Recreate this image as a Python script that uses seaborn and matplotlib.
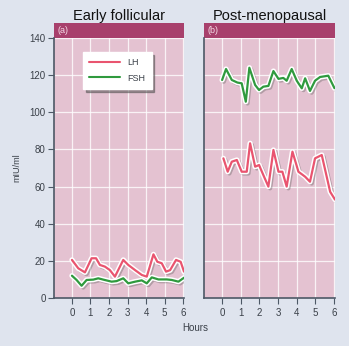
import numpy as np
import pandas as pd
import matplotlib
matplotlib.use("Agg")
import matplotlib.pyplot as plt
import matplotlib.patheffects as pe
from matplotlib.patches import Rectangle
from matplotlib.lines import Line2D
import seaborn as sns

# ---- data ----
lh_a_x = [0, 0.34, 0.7, 1.06, 1.3, 1.51, 1.78, 2.05, 2.32, 2.77, 3.04, 3.41, 3.77, 4.04, 4.4, 4.61, 4.85, 5.08, 5.3, 5.62, 5.87, 6.05]
lh_a_y = [20.5, 16, 13.8, 21.4, 21.4, 17.8, 16.9, 15, 11.5, 20.5, 17.8, 15, 12.4, 11.5, 23.5, 19.5, 18.7, 14.2, 15, 20.5, 19.5, 14.2]
fsh_a_x = [0, 0.25, 0.52, 0.79, 1.15, 1.42, 1.69, 2.14, 2.41, 2.77, 3.04, 3.41, 3.77, 4.04, 4.31, 4.67, 5.12, 5.39, 5.75, 6.05]
fsh_a_y = [12, 9.7, 6.6, 9.7, 9.9, 10.6, 9.9, 8.8, 9.1, 10.6, 7.9, 8.8, 9.5, 7.9, 11.1, 10, 10, 9.7, 8.8, 10.9]

lh_b_x = [0.07, 0.3, 0.52, 0.79, 1.05, 1.32, 1.5, 1.77, 1.98, 2.21, 2.48, 2.75, 3.02, 3.23, 3.46, 3.77, 4.09, 4.45, 4.71, 4.98, 5.34, 5.79, 6.05]
lh_b_y = [75.2, 68, 73.4, 74.3, 68, 68, 83.3, 70.7, 71.6, 66.2, 60, 79.7, 68, 68, 60, 78.8, 68, 65.3, 62.6, 75.2, 77, 57.2, 53]
fsh_b_x = [0, 0.21, 0.52, 0.82, 1.05, 1.27, 1.46, 1.77, 1.98, 2.21, 2.48, 2.75, 3.02, 3.28, 3.46, 3.73, 4.0, 4.27, 4.45, 4.71, 4.98, 5.25, 5.69, 6.02]
fsh_b_y = [117.4, 123.3, 117.4, 116, 115.6, 105.7, 124, 114.7, 112, 113.8, 114.2, 122.2, 118, 118.5, 117, 123.3, 117, 112.9, 118.3, 111.5, 117, 119, 119.7, 113]

x_ticks = [0, 1, 2, 3, 4, 5, 6]
y_ticks = [0, 20, 40, 60, 80, 100, 120, 140]
titles = ["Early follicular", "Post-menopausal"]
tags = ["(a)", "(b)"]
hormones = ["LH", "FSH"]

sns.set_style("white")
plt.rcParams["font.family"] = ["Liberation Sans", "DejaVu Sans"]

BG = "#dfe4ee"
PINK = "#e4c2d1"
BAND = "#a8406c"
LH_C = "#e9546f"
FSH_C = "#2f9a3e"
SPINE = "#4d5866"
TXT = "#3a4048"

fig = plt.figure(figsize=(3.49, 3.46), dpi=100, facecolor=BG)
ax_a = fig.add_axes([54/349, 1-298/346, (184-54)/349, (298-38)/346])
ax_b = fig.add_axes([204/349, 1-298/346, (335-204)/349, (298-38)/346])

frames = [
    pd.DataFrame({"Hours": lh_a_x + fsh_a_x, "mIU/ml": lh_a_y + fsh_a_y,
                  "Hormone": ["LH"]*len(lh_a_x) + ["FSH"]*len(fsh_a_x)}),
    pd.DataFrame({"Hours": lh_b_x + fsh_b_x, "mIU/ml": lh_b_y + fsh_b_y,
                  "Hormone": ["LH"]*len(lh_b_x) + ["FSH"]*len(fsh_b_x)}),
]

effects = [pe.SimpleLineShadow(offset=(1.2, -1.2), shadow_color="#555555", alpha=0.35,
                               linewidth=3.2, joinstyle="round", capstyle="round"),
           pe.Stroke(linewidth=3.8, foreground="white", joinstyle="round", capstyle="round"),
           pe.Normal()]

for i, (ax, df) in enumerate(zip([ax_a, ax_b], frames)):
    ax.set_facecolor(PINK)
    sns.lineplot(data=df, x="Hours", y="mIU/ml", hue="Hormone", hue_order=hormones,
                 palette={"LH": LH_C, "FSH": FSH_C}, sort=False, estimator=None,
                 linewidth=1.6, ax=ax, legend=False)
    for ln in ax.get_lines():
        ln.set_solid_joinstyle("round")
        ln.set_solid_capstyle("round")
        ln.set_path_effects(effects)
    ax.set_xlim(-0.97, 6.05)
    ax.set_ylim(0, 140)
    ax.set_xticks(x_ticks)
    ax.set_yticks(y_ticks)
    ax.grid(True, color="white", linewidth=0.9, alpha=0.8)
    ax.set_axisbelow(True)
    for s in ["top", "right"]:
        ax.spines[s].set_visible(False)
    for s in ["left", "bottom"]:
        ax.spines[s].set_color(SPINE)
        ax.spines[s].set_linewidth(1.2)
    ax.tick_params(axis="x", direction="out", length=4, width=0.8, color=SPINE,
                   labelsize=7, labelcolor=TXT, pad=3, bottom=True)
    ax.set_xlabel("")
    ax.set_ylabel("")
    # header band
    ax.add_patch(Rectangle((0, 1.0), 1.0, 15/260, transform=ax.transAxes,
                           facecolor=BAND, edgecolor="none", clip_on=False))
    ax.text(0.03, 1.0 + 7.5/260, tags[i], transform=ax.transAxes, color="#f3dbe5",
            fontsize=6.5, va="center", ha="left")
    ax.text(0.5, 1.0 + 22/260, titles[i], transform=ax.transAxes, color="#111111",
            fontsize=10.5, va="center", ha="center")

ax_a.tick_params(axis="y", direction="out", length=4, width=0.8, color=SPINE,
                 labelsize=7, labelcolor=TXT, pad=2, left=True)
ax_b.tick_params(axis="y", left=False, labelleft=False)

fig.text(17/349, 1-168/346, "mIU/ml", rotation=90, ha="center", va="center",
         fontsize=6.5, color=TXT)
fig.text(195/349, 1-328/346, "Hours", ha="center", va="center", fontsize=7, color=TXT)

# legend
handles = [Line2D([0], [0], color=LH_C, lw=1.5), Line2D([0], [0], color=FSH_C, lw=1.5)]
leg = ax_a.legend(handles, hormones, loc="upper left",
                  bbox_to_anchor=((83-54)/130, (298-52)/260), borderaxespad=0,
                  fontsize=6.5, frameon=True, fancybox=False, shadow=True, handlelength=3.4,
                  borderpad=0.7, labelspacing=0.7, handletextpad=0.8)
leg.get_frame().set_facecolor("white")
leg.get_frame().set_edgecolor("white")
for t in leg.get_texts():
    t.set_color(TXT)

fig.savefig("out.png", dpi=100, facecolor=BG)
